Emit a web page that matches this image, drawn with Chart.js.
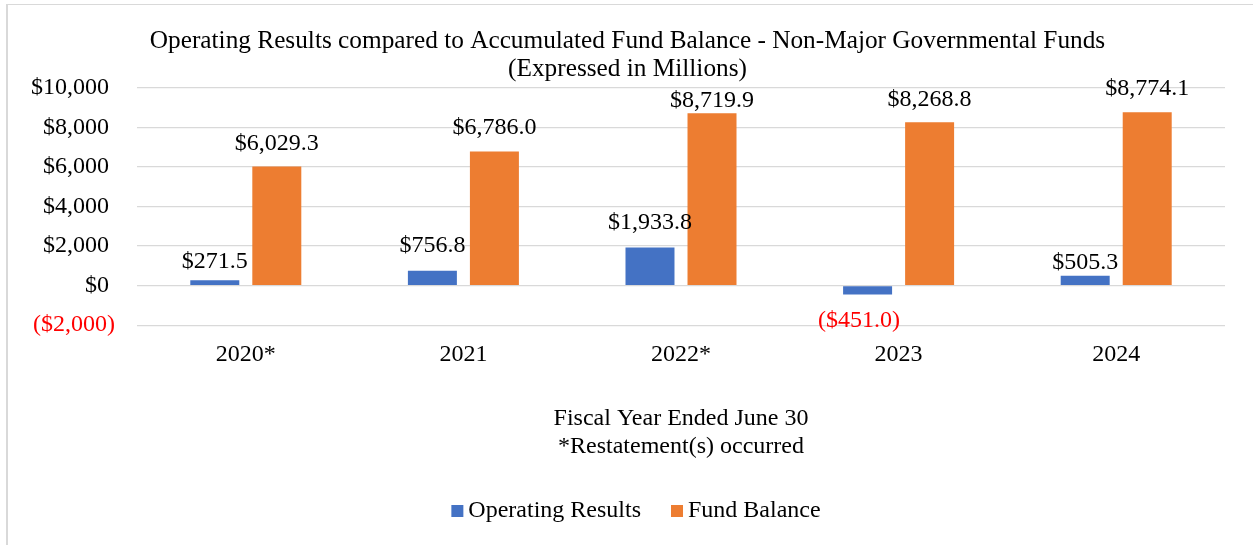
<!DOCTYPE html>
<html><head><meta charset="utf-8">
<script src="https://cdn.jsdelivr.net/npm/chart.js@4.4.1/dist/chart.umd.min.js"></script>
<style>
html,body{margin:0;padding:0;background:#fff;}
#wrap{position:relative;width:1253px;height:545px;overflow:hidden;background:#fff;}
#frame{position:absolute;left:6px;top:4px;right:-10px;bottom:-10px;border-left:2px solid #d9d9d9;border-top:1px solid #d9d9d9;pointer-events:none;}
canvas{position:absolute;left:0;top:0;}
</style></head><body>
<div id="wrap"><canvas id="c" width="1253" height="545"></canvas><div id="frame"></div></div>
<script>
// ---- data ----
const categories = ['2020*', '2021', '2022*', '2023', '2024'];
const operatingResults = [271.5, 756.8, 1933.8, -451.0, 505.3];
const fundBalance = [6029.3, 6786.0, 8719.9, 8268.8, 8774.1];
const seriesNames = ['Operating Results', 'Fund Balance'];
const yTickMin = -2000, yTickMax = 10000, yTickStep = 2000;
const titleLines = ['Operating Results compared to Accumulated Fund Balance - Non-Major Governmental Funds', '(Expressed in Millions)'];
const xTitleLines = ['Fiscal Year Ended June 30', '*Restatement(s) occurred'];

// ---- styles ----
const FONT = "'Liberation Serif', 'Times New Roman', serif";
const colors = ['#4472C4', '#ED7D31'];
const labelLift = [[19, 25, 25, 26, 12.5], [22.5, 23.5, 12.5, 23, 24]];
const negLabelShiftX = -8.5;

function fmtVal(v) {
  const s = '$' + Math.abs(v).toLocaleString('en-US', {minimumFractionDigits: 1, maximumFractionDigits: 1});
  return v < 0 ? '(' + s + ')' : s;
}
function fmtTick(v) {
  const s = '$' + Math.abs(v).toLocaleString('en-US');
  return v < 0 ? '(' + s + ')' : s + ' ';
}

const dataLabels = {
  id: 'dataLabels',
  afterDatasetsDraw(chart) {
    const ctx = chart.ctx;
    ctx.save();
    ctx.font = '24px ' + FONT;
    ctx.textAlign = 'center';
    ctx.textBaseline = 'middle';
    chart.data.datasets.forEach((ds, di) => {
      const meta = chart.getDatasetMeta(di);
      meta.data.forEach((el, i) => {
        const v = ds.data[i];
        if (v < 0) {
          ctx.fillStyle = '#FF0000';
          ctx.fillText(fmtVal(v), el.x + negLabelShiftX, el.y + labelLift[di][i]);
        } else {
          ctx.fillStyle = '#000000';
          ctx.fillText(fmtVal(v), el.x, el.y - labelLift[di][i]);
        }
      });
    });
    ctx.restore();
  }
};

const customLegend = {
  id: 'customLegend',
  afterDraw(chart) {
    const ctx = chart.ctx;
    ctx.save();
    ctx.font = '24px ' + FONT;
    ctx.textBaseline = 'middle';
    ctx.textAlign = 'left';
    const box = 12, gap = 5, itemGap = 30;
    const widths = chart.data.datasets.map(d => ctx.measureText(d.label).width);
    let total = 0;
    widths.forEach((w, i) => { total += box + gap + w + (i ? itemGap : 0); });
    let x = 636 - total / 2;
    const yc = 511;
    chart.data.datasets.forEach((d, i) => {
      ctx.fillStyle = d.backgroundColor;
      ctx.fillRect(x, yc - box / 2, box, box);
      ctx.fillStyle = '#000';
      ctx.fillText(d.label, x + box + gap, yc);
      x += box + gap + widths[i] + itemGap;
    });
    ctx.restore();
  }
};

new Chart(document.getElementById('c'), {
  type: 'bar',
  data: {
    labels: categories,
    datasets: [
      {label: seriesNames[0], data: operatingResults, backgroundColor: colors[0]},
      {label: seriesNames[1], data: fundBalance, backgroundColor: colors[1]}
    ]
  },
  options: {
    responsive: false,
    animation: false,
    devicePixelRatio: 1,
    categoryPercentage: 0.57,
    barPercentage: 0.79,
    layout: {padding: {left: 30, right: 28, top: 0, bottom: 84}},
    plugins: {
      legend: {display: false},
      tooltip: {enabled: false},
      title: {
        display: true, text: titleLines, color: '#000',
        font: {family: FONT, size: 25.3, weight: 'normal', lineHeight: 28 / 25.3},
        padding: {top: 27, bottom: 5}
      }
    },
    scales: {
      x: {
        grid: {display: false, drawTicks: false},
        border: {display: false},
        ticks: {color: '#000', font: {family: FONT, size: 24}, padding: 15},
        title: {
          display: true, text: xTitleLines, color: '#000',
          font: {family: FONT, size: 24, lineHeight: 28 / 24},
          padding: {top: 21, bottom: 0}
        }
      },
      y: {
        min: yTickMin, max: yTickMax,
        afterFit: s => { s.width = 107; },
        grid: {color: '#d9d9d9', lineWidth: 1.3, drawTicks: false},
        border: {display: false},
        ticks: {
          stepSize: yTickStep,
          callback: v => fmtTick(v),
          color: c => (c.tick && c.tick.value < 0) ? '#FF0000' : '#000',
          font: {family: FONT, size: 24},
          padding: 22
        }
      }
    }
  },
  plugins: [dataLabels, customLegend]
});
</script>
</body></html>
